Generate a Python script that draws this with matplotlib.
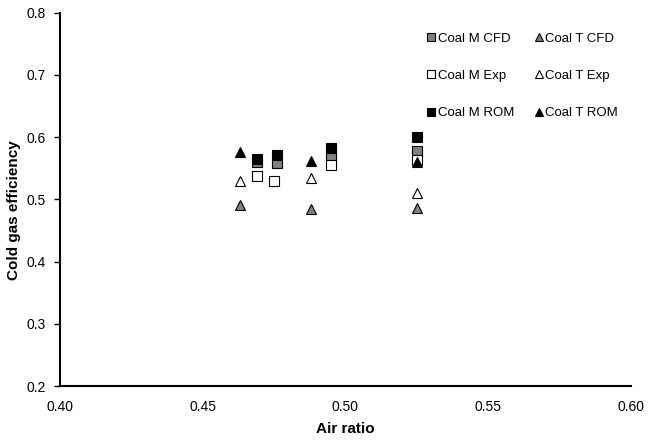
import matplotlib
matplotlib.use("Agg")
import matplotlib.pyplot as plt

plt.rcParams['font.family'] = ['Liberation Sans', 'DejaVu Sans']

# Data
m_x = [0.469, 0.476, 0.495, 0.525]
m_x_exp = [0.469, 0.475, 0.495, 0.525]
m_cfd = [0.560, 0.558, 0.570, 0.578]
m_exp = [0.537, 0.530, 0.556, 0.563]
m_rom = [0.565, 0.571, 0.583, 0.600]

t_x = [0.463, 0.488, 0.525]
t_cfd = [0.491, 0.484, 0.486]
t_exp = [0.530, 0.534, 0.510]
t_rom = [0.576, 0.561, 0.560]

fig = plt.figure(figsize=(6.49, 4.40), dpi=100)
ax = fig.add_axes([60/649, 1 - 386/440, (631-60)/649, (386-12.7)/440])

ms = 7
ew = 0.8
ax.plot(m_x, m_cfd, 's', ms=ms, mfc='#808080', mec='black', mew=ew, label='Coal M CFD', zorder=3)
ax.plot(m_x_exp, m_exp, 's', ms=ms, mfc='white', mec='black', mew=ew, label='Coal M Exp', zorder=3)
ax.plot(m_x, m_rom, 's', ms=ms, mfc='black', mec='black', mew=ew, label='Coal M ROM', zorder=3)
ax.plot(t_x, t_cfd, '^', ms=ms, mfc='#808080', mec='black', mew=ew, label='Coal T CFD', zorder=3)
ax.plot(t_x, t_exp, '^', ms=ms, mfc='white', mec='black', mew=ew, label='Coal T Exp', zorder=3)
ax.plot(t_x, t_rom, '^', ms=ms, mfc='black', mec='black', mew=ew, label='Coal T ROM', zorder=3)

ax.set_xlim(0.40, 0.60)
ax.set_ylim(0.2, 0.8)
ax.set_xticks([0.40, 0.45, 0.50, 0.55, 0.60])
ax.set_xticklabels(['0.40', '0.45', '0.50', '0.55', '0.60'])
ax.set_yticks([0.2, 0.3, 0.4, 0.5, 0.6, 0.7, 0.8])
ax.set_yticklabels(['0.2', '0.3', '0.4', '0.5', '0.6', '0.7', '0.8'])

for s in ['top', 'right']:
    ax.spines[s].set_visible(False)
for s in ['left', 'bottom']:
    ax.spines[s].set_linewidth(1.5)

ax.tick_params(axis='y', direction='out', length=4, width=1, labelsize=10, pad=6)
ax.tick_params(axis='x', direction='out', length=0, labelsize=10, pad=10)

ax.set_xlabel('Air ratio', fontsize=11, fontweight='bold', labelpad=6)
ax.set_ylabel('Cold gas efficiency', fontsize=11, fontweight='bold')
ax.yaxis.set_label_coords(-0.068, 0.47)

leg = ax.legend(ncol=2, loc='upper right', bbox_to_anchor=(1.012, 1.0), frameon=False,
                fontsize=9.5, handlelength=0.7, handletextpad=0.15, columnspacing=1.5,
                labelspacing=1.9, markerscale=0.85, borderaxespad=1.1)

fig.savefig('out.png', dpi=100)
